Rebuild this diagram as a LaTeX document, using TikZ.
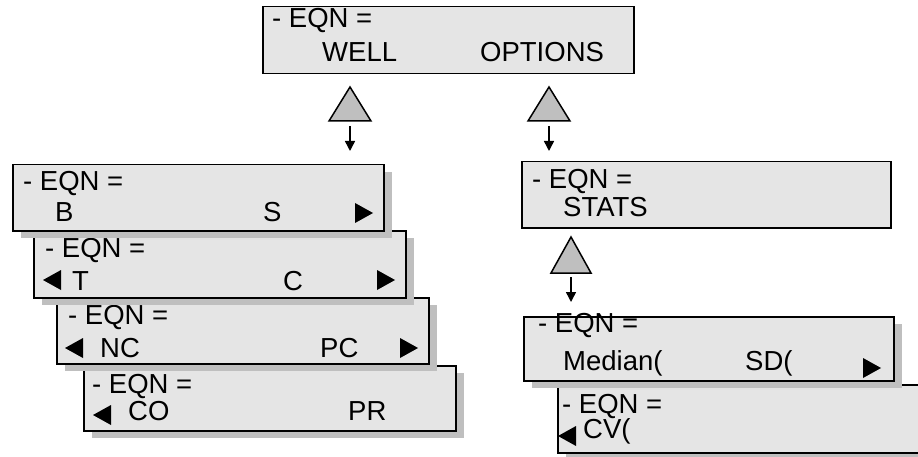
\documentclass[tikz,border=0pt]{standalone}
\usepackage{fontspec}
\setmainfont{Liberation Sans}
\usetikzlibrary{calc,shadows,arrows.meta}

\tikzset{
  lcd/.style={rectangle, draw, line width=1.5pt, fill=gray!20, minimum width=371pt, minimum height=66pt, anchor=north west, inner sep=0pt},
  lcdshadow/.style={drop shadow={shadow xshift=8pt, shadow yshift=-7pt, fill=gray!50, opacity=1}},
  txt/.style={anchor=base west, inner sep=0pt, font=\fontsize{27.5}{30}\selectfont},
  updown/.style={draw, line width=1.5pt, fill=gray!50, line join=miter},
  arr/.style={line width=1.5pt, -{Triangle[width=10pt,length=10pt]}},
  rtip/.pic={\fill (0,0) -- (18,-10) -- (0,-20) -- cycle;},
  ltip/.pic={\fill (18,0) -- (0,-10) -- (18,-20) -- cycle;}
}

\begin{document}
\begin{tikzpicture}[x=1pt, y=1pt]
    \useasboundingbox (0,0) rectangle (918,-457);
    \clip (0,0) rectangle (918,-457);
    % Top screen
    \node [lcd, minimum height=67pt] (top) at (262,-6) {};
    \node [txt] (topa) at ($(top.north west)+(10,-22)$) {- EQN =};
    \node [txt] (topb) at ($(top.north west)+(60,-56)$) {WELL};
    \node [txt] (topc) at ($(top.north west)+(218,-56)$) {OPTIONS};
    % Keys below the top screen
    \draw [updown] (350,-87) -- (371,-121) -- (329,-121) -- cycle;
    \coordinate (k1a) at (350,-126);
    \coordinate (k1b) at (350,-151);
    \draw [arr] (k1a) -- (k1b);
    \draw [updown] (549,-87) -- (570,-121) -- (528,-121) -- cycle;
    \coordinate (k2a) at (549,-126);
    \coordinate (k2b) at (549,-151);
    \draw [arr] (k2a) -- (k2b);
    % WELL stack, back to front
    \node [lcd, lcdshadow, minimum width=372pt, minimum height=65pt] (w4) at (83,-365) {};
    \node [txt] (w4a) at ($(w4.north west)+(9,-28)$) {- EQN =};
    \pic (w4l) at ($(w4.north west)+(10,-40)$) {ltip};
    \node [txt] (w4b) at ($(w4.north west)+(45,-55)$) {CO};
    \node [txt] (w4c) at ($(w4.north west)+(265,-55)$) {PR};
    \node [lcd, lcdshadow, minimum width=372pt] (w3) at (56,-297) {};
    \node [txt] (w3a) at ($(w3.north west)+(12,-27)$) {- EQN =};
    \pic (w3l) at ($(w3.north west)+(9,-41)$) {ltip};
    \node [txt] (w3b) at ($(w3.north west)+(44,-60)$) {NC};
    \node [txt] (w3c) at ($(w3.north west)+(264,-60)$) {PC};
    \pic (w3r) at ($(w3.north west)+(344,-41)$) {rtip};
    \node [lcd, lcdshadow, minimum width=372pt, minimum height=67pt] (w2) at (33,-230) {};
    \node [txt] (w2a) at ($(w2.north west)+(12,-28)$) {- EQN =};
    \pic (w2l) at ($(w2.north west)+(10,-40)$) {ltip};
    \node [txt] (w2b) at ($(w2.north west)+(39,-60)$) {T};
    \node [txt] (w2c) at ($(w2.north west)+(250,-60)$) {C};
    \pic (w2r) at ($(w2.north west)+(344,-40)$) {rtip};
    \node [lcd, lcdshadow] (w1) at (12,-164) {};
    \node [txt] (w1a) at ($(w1.north west)+(11,-27)$) {- EQN =};
    \node [txt] (w1b) at ($(w1.north west)+(43,-58)$) {B};
    \node [txt] (w1c) at ($(w1.north west)+(251,-58)$) {S};
    \pic (w1r) at ($(w1.north west)+(343,-39)$) {rtip};
    % OPTIONS branch
    \node [lcd, minimum width=369pt] (opt) at (521,-161) {};
    \node [txt] (opta) at ($(opt.north west)+(11,-28)$) {- EQN =};
    \node [txt] (optb) at ($(opt.north west)+(42,-55)$) {STATS};
    \draw [updown] (571,-237) -- (591,-273) -- (551,-273) -- cycle;
    \coordinate (k3a) at (571,-277);
    \coordinate (k3b) at (571,-302);
    \draw [arr] (k3a) -- (k3b);
    % STATS stack, back to front
    \node [lcd, lcdshadow, minimum height=68pt] (s2) at (557,-384) {};
    \node [txt] (s2a) at ($(s2.north west)+(5,-29)$) {- EQN =};
    \pic (s2l) at ($(s2.north west)+(1,-42)$) {ltip};
    \node [txt] (s2b) at ($(s2.north west)+(26,-54)$) {CV(};
    \node [lcd, lcdshadow, minimum width=370pt, minimum height=64pt] (s1) at (523,-316) {};
    \node [txt] (s1a) at ($(s1.north west)+(15,-16)$) {- EQN =};
    \node [txt] (s1b) at ($(s1.north west)+(40,-54)$) {Median(};
    \node [txt] (s1c) at ($(s1.north west)+(222,-54)$) {SD(};
    \pic (s1r) at ($(s1.north west)+(340,-42)$) {rtip};
\end{tikzpicture}
\end{document}
